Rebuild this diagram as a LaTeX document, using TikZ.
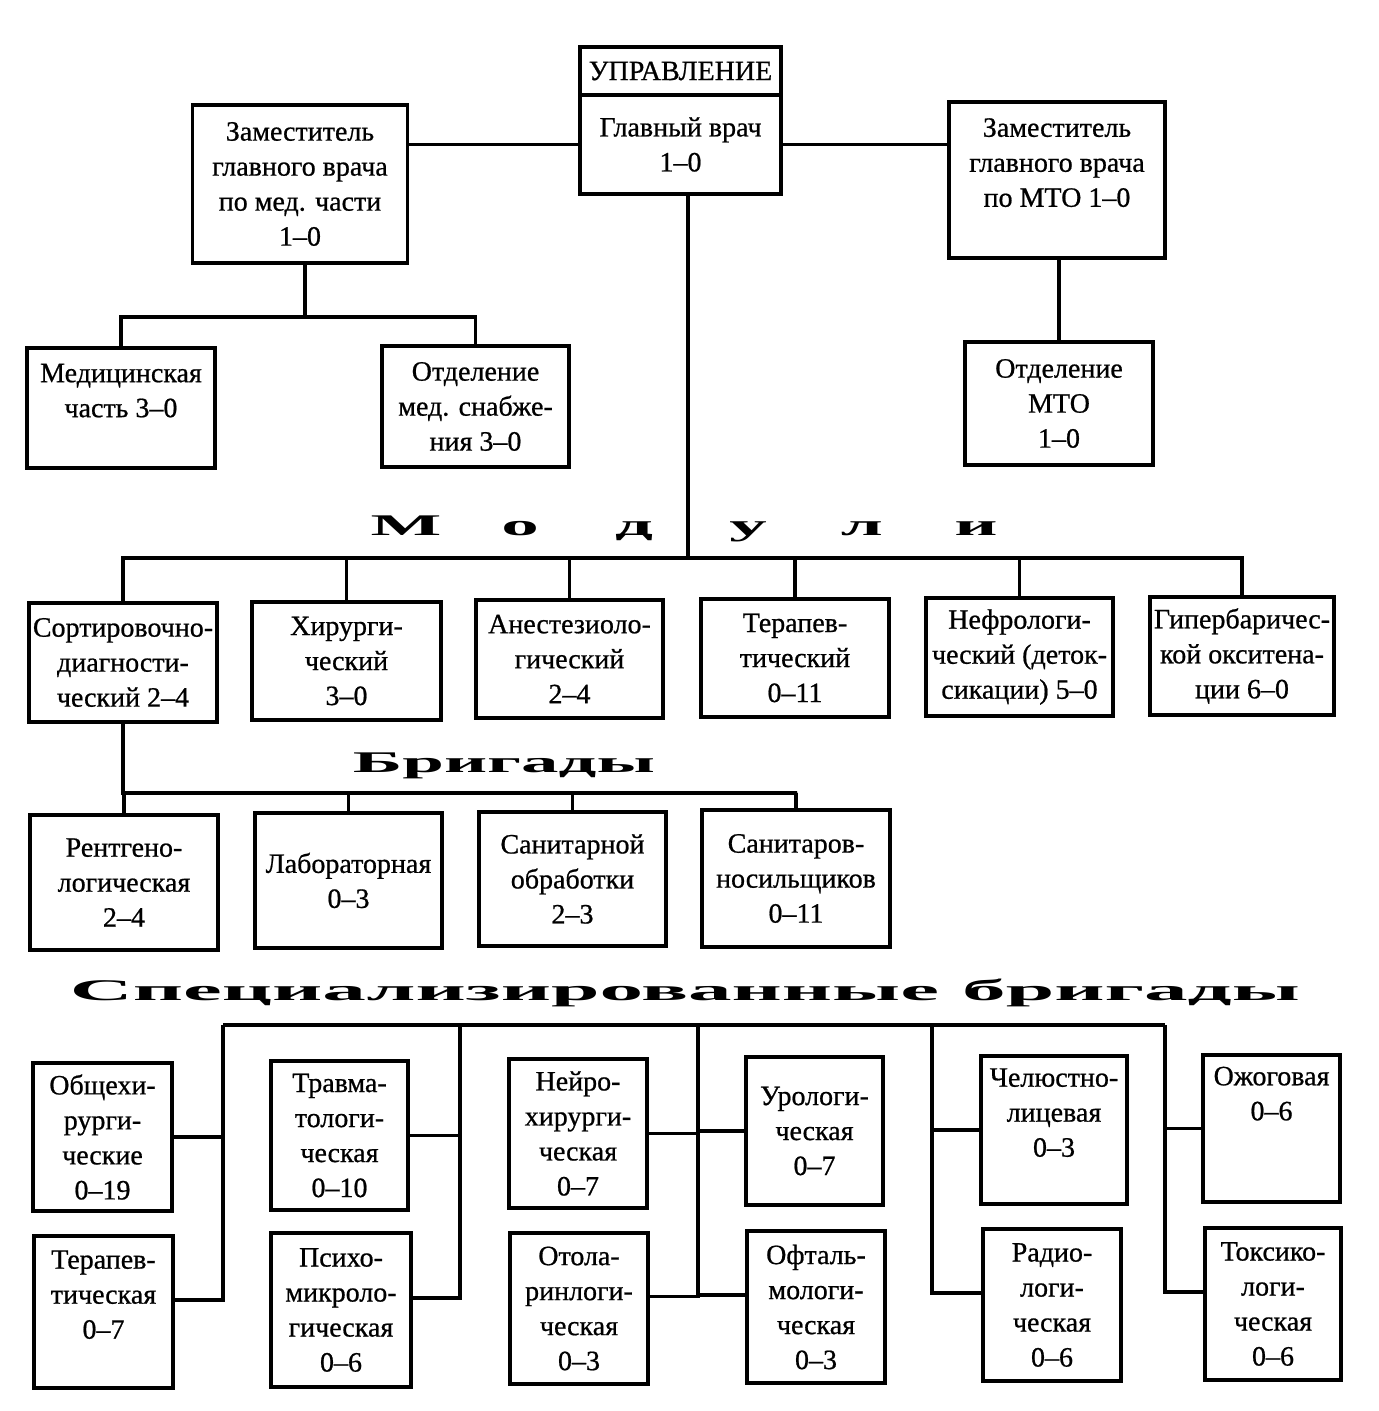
\documentclass[tikz,border=0pt]{standalone}
\usepackage{fontspec}
\setmainfont{Liberation Serif}
\newfontfamily\boxfont{Liberation Serif}[FakeBold=0.7]
\newfontfamily\hdrfont{Liberation Serif}
\newcommand{\hdrletter}[1]{\makebox[57pt]{\scalebox{2.5}[1]{#1}}}

\begin{document}
\begin{tikzpicture}[x=0.5pt,y=-0.5pt,line width=1.8pt]
\tikzset{box/.style 2 args={draw,align=center,inner sep=0pt,minimum width=#1*0.5pt,minimum height=#2*0.5pt,font=\boxfont\fontsize{14}{17.5}\selectfont}}
\tikzset{title/.style={anchor=base,inner sep=0pt,font=\hdrfont\bfseries\fontsize{15}{18}\selectfont}}
\fill[white] (0,0) rectangle (1378,1411);
\useasboundingbox (0,0) rectangle (1378,1411);

% управление
\node[box={201}{48}] (upr) at (680.5,71) {УПРАВЛЕНИЕ};
\node[box={201}{99}] (glav) at (680.5,144.5) {Главный врач\\1–0};
\node[box={215}{158}] (dep1) at (300,184) {Заместитель\\главного врача\\по мед. части\\1–0};
\node[box={216}{156}] (dep2) at (1057,180) {Заместитель\\главного врача\\по МТО 1–0\\~};
\node[box={188}{120}] (med) at (121,408) {Медицинская\\часть 3–0\\~};
\node[box={187}{121}] (snab) at (475.5,406.5) {Отделение\\мед. снабже-\\ния 3–0};
\node[box={188}{123}] (mto) at (1059,403.5) {Отделение\\МТО\\1–0};

\draw (glav.west) -- (glav.west -| dep1.east);
\draw (glav.east) -- (glav.east -| dep2.west);
\coordinate (db) at (305,317);
\draw (dep1.south -| db) -- (db);
\draw (med.north) |- (db) -| (snab.north);
\draw (dep2.south -| mto.north) -- (mto.north);

% модули
\node[title] (modt) at (691,535) {\hdrletter{М}\hdrletter{о}\hdrletter{д}\hdrletter{у}\hdrletter{л}\hdrletter{и}};
\node[box={188}{119}] (m1) at (123,662.5) {Сортировочно-\\диагности-\\ческий 2–4};
\node[box={189}{118}] (m2) at (346.5,661) {Хирурги-\\ческий\\3–0};
\node[box={187}{118}] (m3) at (569.5,659) {Анестезиоло-\\гический\\2–4};
\node[box={188}{118}] (m4) at (795,658) {Терапев-\\тический\\0–11};
\node[box={187}{118}] (m5) at (1019.5,657) {Нефрологи-\\ческий (деток-\\сикации) 5–0};
\node[box={184}{118}] (m6) at (1242,656) {Гипербаричес-\\кой окситена-\\ции 6–0};

\coordinate (mb) at (688,558);
\draw (glav.south -| mb) -- (mb);
\draw (m1.north) |- (mb) -| (m6.north);
\draw (m2.north) -- (m2.north |- mb);
\draw (m3.north) -- (m3.north |- mb);
\draw (m4.north) -- (m4.north |- mb);
\draw (m5.north) -- (m5.north |- mb);

% бригады
\node[title] (brt) at (504,772) {\resizebox{151pt}{\height}{Бригады}};
\node[box={188}{135}] (b1) at (124,882.5) {Рентгено-\\логическая\\2–4};
\node[box={187}{135}] (b2) at (348.5,880.5) {Лабораторная\\0–3};
\node[box={187}{134}] (b3) at (572.5,879) {Санитарной\\обработки\\2–3};
\node[box={188}{137}] (b4) at (796,878.5) {Санитаров-\\носильщиков\\0–11};

\coordinate (bb) at (797,793);
\draw (m1.south) |- (bb) -| (b4.north);
\draw (b1.north) -- (b1.north |- bb);
\draw (b2.north) -- (b2.north |- bb);
\draw (b3.north) -- (b3.north |- bb);

% специализированные бригады
\node[title] (spt) at (685,1000) {\resizebox{615pt}{\height}{Специализированные\hspace{4pt}бригады}};
\node[box={139}{148}] (obsh) at (102.5,1137) {Общехи-\\рурги-\\ческие\\0–19};
\node[box={139}{152}] (terap) at (103.5,1312) {Терапев-\\тическая\\0–7\\~};
\node[box={137}{149}] (travm) at (339.5,1135.5) {Травма-\\тологи-\\ческая\\0–10};
\node[box={140}{154}] (psih) at (341,1310) {Психо-\\микроло-\\гическая\\0–6};
\node[box={138}{149}] (neiro) at (578,1133.5) {Нейро-\\хирурги-\\ческая\\0–7};
\node[box={138}{151}] (otola) at (579,1308.5) {Отола-\\ринлоги-\\ческая\\0–3};
\node[box={137}{148}] (uro) at (814.5,1131) {Урологи-\\ческая\\0–7};
\node[box={138}{152}] (oft) at (816,1307) {Офталь-\\мологи-\\ческая\\0–3};
\node[box={146}{148}] (chel) at (1054,1130) {Челюстно-\\лицевая\\0–3\\~};
\node[box={138}{152}] (radio) at (1052,1305) {Радио-\\логи-\\ческая\\0–6};
\node[box={137}{147}] (ozhog) at (1271.5,1128.5) {Ожоговая\\0–6\\~\\~};
\node[box={136}{152}] (toks) at (1273,1304) {Токсико-\\логи-\\ческая\\0–6};

\coordinate (v1) at (223,1025);
\coordinate (v2) at (460,1025);
\coordinate (v3) at (698,1025);
\coordinate (v4) at (932,1025);
\coordinate (v5) at (1165,1025);
\draw (v1) -- (v5);
\draw (obsh.east) -| (v1);
\draw ([yshift=6pt]terap.east) -| (v1);
\draw (travm.east) -| (v2);
\draw ([yshift=6pt]psih.east) -| (v2);
\draw (neiro.east) -| (v3);
\draw ([yshift=6pt]otola.east) -| (v3);
\draw (uro.west) -| (v3);
\draw ([yshift=6pt]oft.west) -| (v3);
\draw (chel.west) -| (v4);
\draw ([yshift=6pt]radio.west) -| (v4);
\draw (ozhog.west) -| (v5);
\draw ([yshift=6pt]toks.west) -| (v5);
\end{tikzpicture}
\end{document}
